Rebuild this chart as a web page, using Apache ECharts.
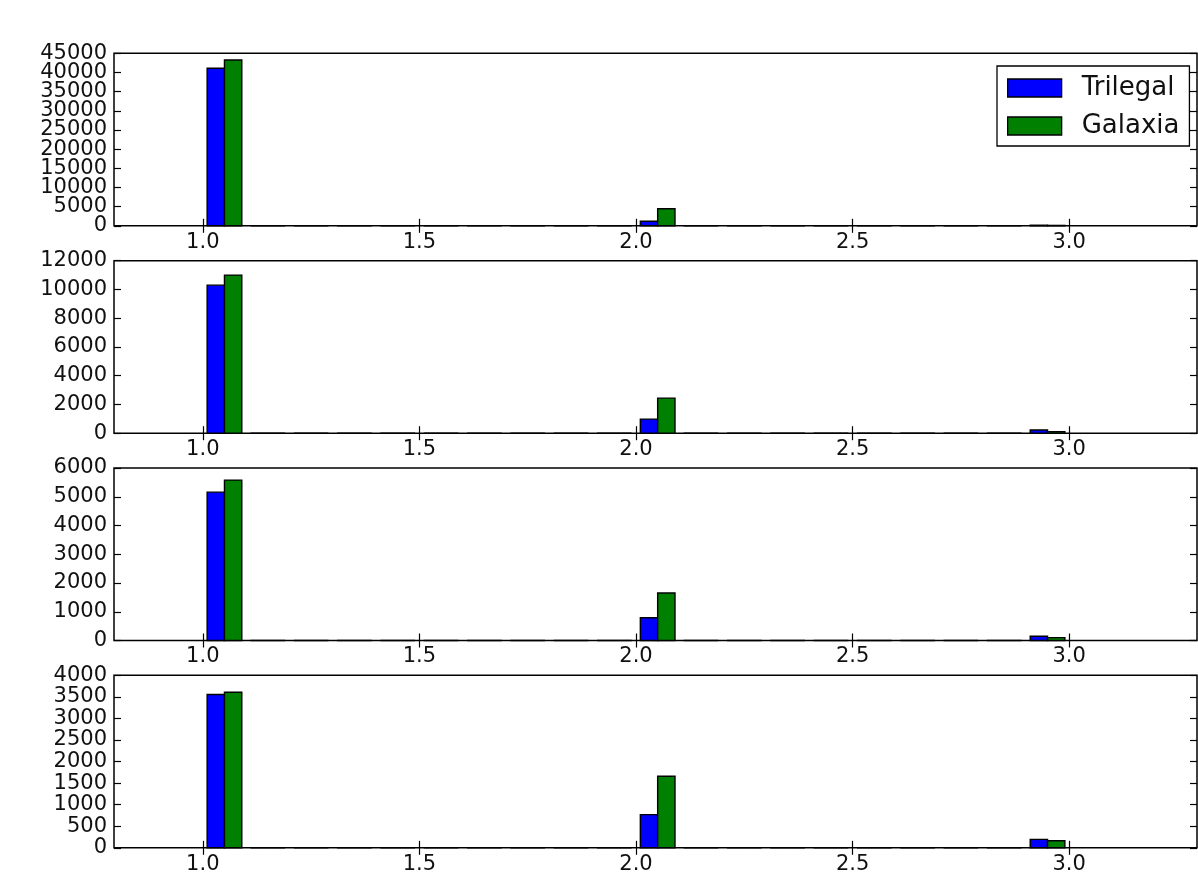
<!DOCTYPE html>
<html>
<head>
<meta charset="utf-8">
<script src="https://cdn.jsdelivr.net/npm/echarts@6/dist/echarts.min.js"></script>
<style>
  html, body { margin: 0; padding: 0; background: #ffffff; }
  #chart { width: 1198px; height: 872px; }
</style>
</head>
<body>
<div id="chart"></div>
<script>
// Histogram bins (left edges, width 0.1)
const binStarts = [1.0, 1.1, 1.2, 1.3, 1.4, 1.5, 1.6, 1.7, 1.8, 1.9,
                   2.0, 2.1, 2.2, 2.3, 2.4, 2.5, 2.6, 2.7, 2.8, 2.9];
const xTicks = [1.0, 1.5, 2.0, 2.5, 3.0];

// Counts per bin, one pair of arrays per panel
const trilegal1 = [41100, 0, 0, 0, 0, 0, 0, 0, 0, 0, 1200, 0, 0, 0, 0, 0, 0, 0, 0, 150];
const galaxia1  = [43250, 0, 0, 0, 0, 0, 0, 0, 0, 0, 4430, 0, 0, 0, 0, 0, 0, 0, 0, 100];
const trilegal2 = [10300, 0, 0, 0, 0, 0, 0, 0, 0, 0, 980, 0, 0, 0, 0, 0, 0, 0, 0, 220];
const galaxia2  = [11000, 0, 0, 0, 0, 0, 0, 0, 0, 0, 2440, 0, 0, 0, 0, 0, 0, 0, 0, 110];
const trilegal3 = [5160, 0, 0, 0, 0, 0, 0, 0, 0, 0, 790, 0, 0, 0, 0, 0, 0, 0, 0, 150];
const galaxia3  = [5580, 0, 0, 0, 0, 0, 0, 0, 0, 0, 1650, 0, 0, 0, 0, 0, 0, 0, 0, 100];
const trilegal4 = [3555, 0, 0, 0, 0, 0, 0, 0, 0, 0, 770, 0, 0, 0, 0, 0, 0, 0, 0, 195];
const galaxia4  = [3606, 0, 0, 0, 0, 0, 0, 0, 0, 0, 1658, 0, 0, 0, 0, 0, 0, 0, 0, 162];

// Y tick labels for each panel
const yTicks1 = [0, 5000, 10000, 15000, 20000, 25000, 30000, 35000, 40000, 45000];
const yTicks2 = [0, 2000, 4000, 6000, 8000, 10000, 12000];
const yTicks3 = [0, 1000, 2000, 3000, 4000, 5000, 6000];
const yTicks4 = [0, 500, 1000, 1500, 2000, 2500, 3000, 3500, 4000];

const panels = [
  { trilegal: trilegal1, galaxia: galaxia1, ticks: yTicks1 },
  { trilegal: trilegal2, galaxia: galaxia2, ticks: yTicks2 },
  { trilegal: trilegal3, galaxia: galaxia3, ticks: yTicks3 },
  { trilegal: trilegal4, galaxia: galaxia4, ticks: yTicks4 }
];

const BLUE = '#0000ff';
const GREEN = '#008000';
const FONT = 'DejaVu Sans';
const TEXT = '#111111';
const X_MIN = 0.795, X_MAX = 3.295;
const gridTops = [53.3, 260.7, 468, 675.3];
const gridHeight = 172.5;

// Bars sit inside each 0.1-wide bin: 0.01 margin, two bars of 0.04
function barRenderer(offStart, offEnd) {
  return function (params, api) {
    const start = api.value(0);
    const v = api.value(1);
    const a = api.coord([start + offStart, v]);
    const b = api.coord([start + offEnd, 0]);
    return {
      type: 'rect',
      shape: { x: a[0], y: a[1], width: b[0] - a[0], height: b[1] - a[1] },
      style: { fill: api.visual('color'), stroke: '#000000', lineWidth: 1.4 }
    };
  };
}

const grids = [], xAxes = [], yAxes = [], series = [];
const tickStyle = { lineStyle: { color: '#000', width: 1.2 } };
const yLabelStyle = { show: true, margin: 7, color: TEXT, fontFamily: FONT, fontSize: 21, formatter: v => String(v) };

panels.forEach((p, i) => {
  const ticks = p.ticks;
  const yMax = ticks[ticks.length - 1];
  const yStep = ticks[1] - ticks[0];
  grids.push({
    left: 114, right: 1, top: gridTops[i], height: gridHeight,
    show: true, borderColor: '#000', borderWidth: 1.5, backgroundColor: 'transparent',
    containLabel: false, outerBoundsMode: 'none'
  });
  // bottom x axis with labels
  xAxes.push({
    type: 'value', gridIndex: i, min: X_MIN, max: X_MAX, position: 'bottom',
    axisLine: { show: false }, splitLine: { show: false },
    axisTick: { show: true, inside: true, length: 7, customValues: xTicks, ...tickStyle },
    axisLabel: {
      show: true, customValues: xTicks, margin: 6,
      formatter: v => v.toFixed(1), color: TEXT, fontFamily: FONT, fontSize: 21
    }
  });
  // top x axis: ticks only
  xAxes.push({
    type: 'value', gridIndex: i, min: X_MIN, max: X_MAX, position: 'top',
    axisLine: { show: false }, splitLine: { show: false },
    axisTick: { show: true, inside: true, length: 7, customValues: xTicks, ...tickStyle },
    axisLabel: { show: false, customValues: xTicks }
  });
  // left y axis: ticks + every other label
  yAxes.push({
    type: 'value', gridIndex: i, min: 0, max: yMax, interval: yStep, position: 'left',
    axisLine: { show: false }, splitLine: { show: false },
    axisTick: { show: true, inside: true, length: 7, ...tickStyle },
    axisLabel: { ...yLabelStyle, customValues: ticks.filter((_, k) => k % 2 === 0) }
  });
  // second left y axis: the remaining labels (keeps dense labels from being dropped)
  yAxes.push({
    type: 'value', gridIndex: i, min: 0, max: yMax, interval: yStep, position: 'left', offset: 0,
    axisLine: { show: false }, splitLine: { show: false },
    axisTick: { show: false },
    axisLabel: { ...yLabelStyle, customValues: ticks.filter((_, k) => k % 2 === 1) }
  });
  // right y axis: ticks only
  yAxes.push({
    type: 'value', gridIndex: i, min: 0, max: yMax, interval: yStep, position: 'right',
    axisLine: { show: false }, splitLine: { show: false },
    axisTick: { show: true, inside: true, length: 7, ...tickStyle },
    axisLabel: { show: false }
  });

  series.push({
    type: 'custom', name: 'Trilegal', xAxisIndex: 2 * i, yAxisIndex: 3 * i,
    itemStyle: { color: BLUE },
    renderItem: barRenderer(0.01, 0.05),
    encode: { x: 0, y: 1 },
    data: binStarts.map((s, k) => [s, p.trilegal[k]]),
    z: 3
  });
  series.push({
    type: 'custom', name: 'Galaxia', xAxisIndex: 2 * i, yAxisIndex: 3 * i,
    itemStyle: { color: GREEN },
    renderItem: barRenderer(0.05, 0.09),
    encode: { x: 0, y: 1 },
    data: binStarts.map((s, k) => [s, p.galaxia[k]]),
    z: 3
  });
});

const chart = echarts.init(document.getElementById('chart'), null, { renderer: 'canvas' });
chart.setOption({
  backgroundColor: '#ffffff',
  animation: false,
  grid: grids,
  xAxis: xAxes,
  yAxis: yAxes,
  legend: {
    orient: 'vertical',
    left: 997, top: 66,
    padding: [9, 10, 7, 10],
    itemGap: 12,
    itemWidth: 54, itemHeight: 18,
    borderColor: '#000', borderWidth: 1.3, borderRadius: 0,
    backgroundColor: '#ffffff',
    selectedMode: false,
    textStyle: { fontFamily: FONT, fontSize: 26, color: TEXT, padding: [0, 0, 0, 15] },
    data: [
      { name: 'Trilegal', icon: 'rect', itemStyle: { color: BLUE, borderColor: '#000', borderWidth: 1.3 } },
      { name: 'Galaxia', icon: 'rect', itemStyle: { color: GREEN, borderColor: '#000', borderWidth: 1.3 } }
    ]
  },
  series: series
});
</script>
</body>
</html>
